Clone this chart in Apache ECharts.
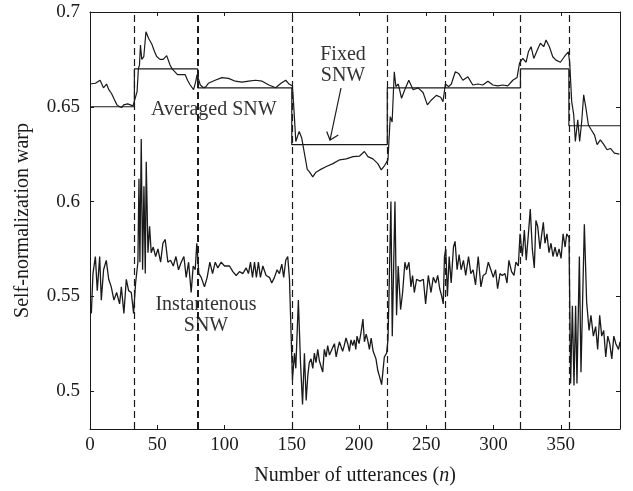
<!DOCTYPE html>
<html>
<head>
<meta charset="utf-8">
<script src="https://cdn.jsdelivr.net/npm/echarts@6/dist/echarts.min.js"></script>
<style>
  html, body { margin: 0; padding: 0; background: #fff; }
  #chart-container { width: 633px; height: 491px; }
</style>
</head>
<body>
<div id="chart-container"></div>
<script>
// values
const xTicks = [0, 50, 100, 150, 200, 250, 300, 350];
const yTicks = [0.5, 0.55, 0.6, 0.65, 0.7];
const segmentBounds = [0, 33, 80, 150, 221, 320, 356, 394];
const fixedLevels = [0.65, 0.67, 0.66, 0.63, 0.66, 0.67, 0.64];
const dashedX = [33, 80, 150, 221, 264, 320, 356];

const averagedSNW = [
  [0,0.662],[1,0.6615],[4,0.6624],[7.5,0.664],[10,0.660],[12.3,0.662],[14,0.659],[16,0.657],[18,0.654],[20,0.651],
  [22,0.650],[23.5,0.6496],[25,0.651],[26,0.6505],[28,0.6515],[30,0.651],[32,0.6505],[33,0.650],[35,0.658],[36,0.6703],
  [36.8,0.672],[37.5,0.6826],[38.5,0.675],[40,0.6765],[41.6,0.6896],[43.6,0.686],[46,0.683],[48,0.679],[49.6,0.6765],[52,0.675],
  [54.5,0.675],[57,0.677],[59.5,0.672],[61,0.670],[63,0.6685],[65,0.667],[67,0.667],[70.7,0.667],[72.5,0.664],[74.5,0.6615],
  [77,0.659],[78.5,0.663],[79.6,0.667],[82,0.6615],[84.5,0.660],[86,0.6605],[88,0.6624],[93,0.664],[98,0.6654],[103,0.665],
  [108,0.6635],[113,0.663],[118,0.6635],[123,0.664],[128,0.6635],[133,0.6615],[138,0.660],[142,0.6624],[145.5,0.664],[148,0.662],
  [150.5,0.661],[152,0.644],[153,0.6317],[155.5,0.637],[157.4,0.6335],[160,0.623],[161.5,0.617],[163,0.6158],[165.6,0.613],[168,0.6155],
  [170.8,0.6167],[175.7,0.6185],[180.6,0.620],[185.6,0.622],[190.5,0.6225],[195.5,0.6237],[200.4,0.624],[204,0.6264],[206.6,0.6237],[210.3,0.6225],
  [214,0.620],[216.5,0.6167],[219,0.619],[221.5,0.622],[223.2,0.6448],[224.6,0.642],[226.2,0.6685],[227.4,0.6606],[229.2,0.662],[231.6,0.6545],
  [234,0.659],[237,0.664],[240.2,0.659],[243.9,0.660],[247.6,0.6575],[250.8,0.651],[253.8,0.6536],[257.5,0.656],[260.7,0.655],[262.4,0.6527],
  [264.2,0.662],[266.7,0.6606],[268.6,0.662],[271.6,0.6685],[274,0.6676],[277.2,0.664],[280.9,0.6658],[284.6,0.6615],[288.4,0.662],[292,0.6615],
  [295.8,0.6635],[299.5,0.6615],[303.2,0.661],[306.9,0.6615],[310.6,0.661],[314.3,0.664],[317.5,0.6655],[319.3,0.673],[321.7,0.6755],[324.2,0.6735],
  [325.9,0.679],[327.9,0.6817],[329.9,0.6755],[332.3,0.6795],[334.8,0.6835],[337.3,0.6817],[339,0.6852],[341.5,0.6817],[344,0.6764],[346.4,0.6746],
  [349.7,0.6735],[352.6,0.6764],[355.6,0.679],[356.6,0.6735],[358.1,0.6527],[359.6,0.6457],[360.8,0.6317],[362.6,0.6431],[364,0.6317],[365.5,0.642],
  [367,0.6563],[368.7,0.6492],[370.5,0.6404],[372.5,0.638],[375,0.6352],[377,0.630],[379.4,0.6325],[382,0.630],[384.4,0.6273],[386.9,0.628],
  [389.8,0.6255],[393.5,0.625]
];

const instantSNW = [
  [1,0.541],[2.2,0.562],[4,0.571],[5.4,0.553],[7.2,0.571],[8.4,0.548],[10.1,0.564],[12.1,0.569],[13.9,0.559],[15.8,0.555],
  [17.8,0.548],[19.8,0.552],[22,0.546],[23.3,0.555],[25.2,0.541],[27,0.559],[28.7,0.553],[30.7,0.552],[32.4,0.541],[33.9,0.557],
  [35.6,0.568],[36.4,0.612],[37.1,0.568],[38.1,0.633],[39.1,0.564],[40.1,0.608],[41.1,0.562],[41.8,0.621],[43.1,0.573],[44.3,0.587],
  [45.5,0.573],[47,0.576],[48.8,0.571],[50.5,0.575],[52.5,0.568],[54.2,0.578],[55.9,0.580],[57.9,0.568],[59.9,0.569],[61.9,0.566],
  [63.9,0.571],[65.8,0.564],[67.8,0.568],[69.8,0.571],[71.5,0.560],[73.3,0.568],[75.2,0.552],[76.7,0.566],[78.2,0.564],[79.4,0.578],
  [80.9,0.562],[82.7,0.560],[85.1,0.555],[87.1,0.560],[89.1,0.568],[91.1,0.562],[93.1,0.568],[95,0.565],[97.5,0.568],[100,0.566],
  [103.7,0.566],[106.2,0.563],[108.7,0.561],[111.1,0.563],[113.6,0.562],[116.1,0.565],[117.8,0.562],[119.3,0.568],[120.8,0.560],[122.3,0.568],
  [123.7,0.560],[125.2,0.568],[126.7,0.560],[128.5,0.566],[130.9,0.561],[133.4,0.560],[135.1,0.557],[137.1,0.560],[139.1,0.564],[140.8,0.562],
  [142.6,0.567],[144,0.560],[145.5,0.569],[147,0.571],[148.3,0.559],[149.5,0.560],[150.5,0.506],[152,0.520],[153,0.512],[154.9,0.548],
  [156.5,0.515],[158,0.493],[159.4,0.520],[160.7,0.495],[161.9,0.508],[163,0.515],[164.3,0.517],[165.6,0.512],[166.8,0.520],[168,0.515],
  [169.3,0.522],[170.5,0.516],[171.8,0.517],[173,0.510],[174.2,0.522],[175.5,0.518],[176.7,0.524],[178,0.519],[179.2,0.520],[180.4,0.523],
  [181.7,0.525],[183,0.518],[184.1,0.522],[185.4,0.526],[186.6,0.527],[187.8,0.521],[189,0.524],[190.3,0.528],[191.6,0.525],[192.8,0.521],
  [194,0.527],[195.3,0.524],[196.5,0.527],[197.6,0.522],[198.5,0.529],[200,0.525],[201.5,0.531],[202.9,0.538],[204,0.526],[205.3,0.530],
  [206.4,0.527],[207.7,0.522],[209,0.528],[210.5,0.521],[212.6,0.517],[213.9,0.511],[215.1,0.508],[216.8,0.5034],[218.8,0.518],[220.5,0.520],
  [221.5,0.527],[222.2,0.548],[223.7,0.600],[224.7,0.529],[226.7,0.600],[227.9,0.540],[229.1,0.566],[230.9,0.543],[232.4,0.552],[234.1,0.568],
  [235.4,0.564],[237.1,0.568],[238.6,0.555],[239.8,0.561],[241.1,0.552],[242.8,0.559],[245.3,0.558],[247.8,0.559],[249.5,0.546],[251.5,0.561],
  [253.5,0.552],[255.2,0.560],[257,0.557],[258.5,0.561],[260,0.554],[261.5,0.550],[262.6,0.546],[263.5,0.571],[264.5,0.575],[265.7,0.550],
  [267,0.571],[268.5,0.557],[270.2,0.576],[271.4,0.579],[272.9,0.564],[274.4,0.572],[275.9,0.564],[277.6,0.569],[279.3,0.561],[281.4,0.571],
  [283.1,0.562],[284.8,0.564],[286.6,0.556],[288.6,0.571],[290.6,0.555],[292.3,0.561],[294.3,0.562],[296.1,0.568],[298,0.564],[299.8,0.560],
  [301.5,0.564],[303,0.554],[304.8,0.562],[306.5,0.561],[308.5,0.562],[310,0.557],[311.4,0.569],[313.4,0.563],[315.2,0.561],[316.6,0.568],
  [318.4,0.566],[319.7,0.583],[321.4,0.571],[322.9,0.585],[324.3,0.569],[325.8,0.582],[327.3,0.596],[328.8,0.575],[330.3,0.565],[331.5,0.590],
  [332.8,0.587],[334.5,0.575],[335.7,0.582],[337,0.589],[338.2,0.578],[339.7,0.583],[341.2,0.573],[342.7,0.578],[344.2,0.571],[345.7,0.576],
  [347.2,0.571],[348.7,0.575],[350.2,0.570],[351.7,0.583],[353.2,0.576],[354.4,0.583],[356.1,0.581],[357.3,0.504],[358.6,0.545],[359.8,0.503],
  [361,0.545],[362,0.504],[363.8,0.571],[365,0.510],[367.5,0.588],[369.2,0.547],[371,0.532],[372.4,0.540],[374.2,0.529],[375.9,0.534],
  [377.4,0.522],[378.9,0.540],[380.4,0.529],[381.9,0.532],[383.4,0.518],[384.9,0.529],[386.4,0.525],[387.9,0.517],[389.4,0.529],[390.9,0.525],
  [392.9,0.522],[394,0.526]
];

// step line for the fixed SNW, built from the bounds and levels
const fixedSNW = [];
fixedLevels.forEach((lv, i) => {
  fixedSNW.push([segmentBounds[i], lv]);
  fixedSNW.push([segmentBounds[i + 1], lv]);
});

const font = 'Liberation Serif';
const ink = '#1a1a1a';

const myChart = echarts.init(document.getElementById('chart-container'));

const baseX = {
  type: 'value', min: 0, max: 394,
  splitLine: { show: false },
  axisLine: { onZero: false, lineStyle: { color: ink, width: 1 } },
  axisTick: { inside: true, length: 4, customValues: xTicks, lineStyle: { color: ink } }
};
const baseY = {
  type: 'value', min: 0.48, max: 0.7,
  splitLine: { show: false },
  axisLine: { onZero: false, lineStyle: { color: ink, width: 1 } },
  axisTick: { inside: true, length: 4, customValues: yTicks, lineStyle: { color: ink } }
};

const option = {
  animation: false,
  backgroundColor: '#fff',
  grid: { left: 90, right: 13, top: 12, bottom: 62 },
  xAxis: [
    Object.assign({}, baseX, {
      position: 'bottom',
      axisLabel: { customValues: xTicks, fontFamily: font, fontSize: 19, color: ink, margin: 7 },
      name: '{a|Number of utterances (}{i|n}{a|)}',
      nameLocation: 'middle',
      nameGap: 37,
      nameTextStyle: {
        rich: {
          a: { fontFamily: font, fontSize: 20, color: ink },
          i: { fontFamily: font, fontSize: 20, color: ink, fontStyle: 'italic' }
        }
      }
    }),
    Object.assign({}, baseX, { position: 'top', axisLabel: { show: false } })
  ],
  yAxis: [
    Object.assign({}, baseY, {
      position: 'left',
      axisLabel: {
        customValues: yTicks,
        fontFamily: font, fontSize: 19, color: ink, margin: 10,
        formatter: v => String(+v.toFixed(2))
      },
      name: 'Self-normalization warp',
      nameLocation: 'middle',
      nameGap: 57,
      nameTextStyle: { fontFamily: font, fontSize: 20, color: ink }
    }),
    Object.assign({}, baseY, { position: 'right', axisLabel: { show: false } })
  ],
  series: [
    {
      name: 'Fixed SNW', type: 'line', data: fixedSNW,
      showSymbol: false, symbol: 'none',
      lineStyle: { color: ink, width: 1.2 },
      markLine: {
        silent: true, symbol: 'none',
        label: { show: false },
        lineStyle: { color: ink, type: [7, 4], width: 1.2 },
        data: dashedX.map(x => ({ xAxis: x, lineStyle: x === 80 ? { width: 2 } : {} }))
      }
    },
    {
      name: 'Averaged SNW', type: 'line', data: averagedSNW,
      showSymbol: false, symbol: 'none',
      lineStyle: { color: ink, width: 1.2 }
    },
    {
      name: 'Instantaneous SNW', type: 'line', data: instantSNW,
      showSymbol: false, symbol: 'none',
      lineStyle: { color: ink, width: 1.3 }
    }
  ],
  graphic: [
    { type: 'text', left: 151, top: 100, style: { text: 'Averaged SNW', font: '20px "Liberation Serif"', fill: '#333' } },
    { type: 'text', x: 343, y: 44, style: { text: 'Fixed\nSNW', font: '20px "Liberation Serif"', fill: '#333', align: 'center', lineHeight: 21 } },
    { type: 'text', x: 206, y: 294, style: { text: 'Instantenous\nSNW', font: '20px "Liberation Serif"', fill: '#333', align: 'center', lineHeight: 21 } },
    { type: 'line', shape: { x1: 341, y1: 88, x2: 330, y2: 140 }, style: { stroke: ink, lineWidth: 1.2 } },
    { type: 'polyline', shape: { points: [[326.7, 131.5], [330, 140], [338.3, 135]] }, style: { stroke: ink, lineWidth: 1.2, fill: null } }
  ]
};

myChart.setOption(option);
</script>
</body>
</html>
